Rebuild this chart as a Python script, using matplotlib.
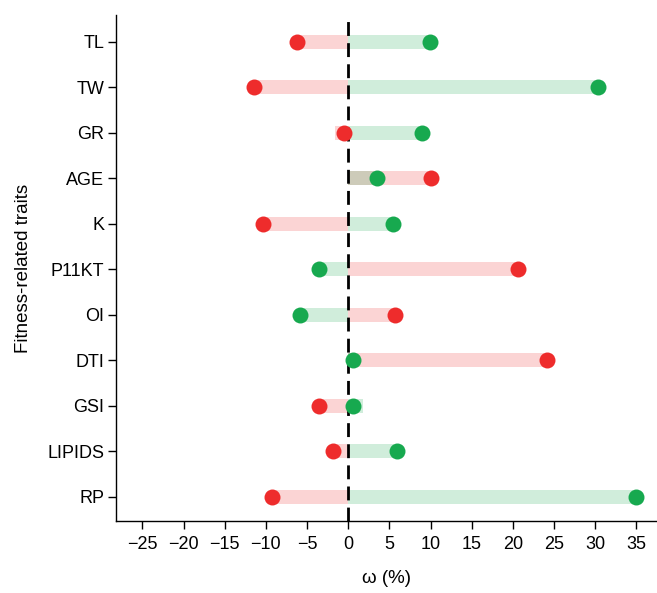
import numpy as np
import matplotlib.pyplot as plt

plt.rcParams['font.family'] = ['Liberation Sans', 'DejaVu Sans']

traits = ['TL', 'TW', 'GR', 'AGE', 'K', 'P11KT', 'OI', 'DTI', 'GSI', 'LIPIDS', 'RP']

# point values (omega, %)
red_pts = [-6.2, -11.4, -0.5, 10.0, -10.4, 20.6, 5.7, 24.1, -3.6, -1.8, -9.3]
green_pts = [9.9, 30.3, 9.0, 3.5, 5.4, -3.5, -5.8, 0.6, 0.6, 5.9, 35.0]

# bar ends (a couple of them run a little past the points)
red_bars = [-6.2, -11.4, -1.6, 10.0, -10.4, 20.6, 5.7, 24.1, -3.6, -1.8, -9.3]
green_bars = [9.9, 30.3, 9.0, 3.5, 5.4, -3.5, -5.8, 0.6, 1.8, 5.9, 35.0]

red = '#EE2C2C'
green = '#17A94F'

y = np.arange(len(traits))[::-1] + 1

fig = plt.figure(figsize=(6.57, 5.93), dpi=100)
ax = fig.add_axes([0.1766, 0.1214, 0.8234, 0.8533])

ax.barh(y, red_bars, height=0.31, left=0, color=red, alpha=0.2, lw=0)
ax.barh(y, green_bars, height=0.31, left=0, color=green, alpha=0.2, lw=0)
ax.axvline(0, ymax=0.99, color='black', lw=2.0, ls=(0, (5, 2.6)))
ax.plot(red_pts, y, 'o', color=red, ms=11.5, mew=0)
ax.plot(green_pts, y, 'o', color=green, ms=11.5, mew=0)

ax.set_xlim(-28.2, 37.5)
ax.set_ylim(0.47, 11.59)
ax.set_xticks(np.arange(-25, 40, 5))
ax.set_yticks(y)
ax.set_yticklabels(traits)

for s in ['top', 'right']:
    ax.spines[s].set_visible(False)
for s in ['left', 'bottom']:
    ax.spines[s].set_linewidth(1.0)

ax.tick_params(axis='both', labelsize=13, length=5.5, width=1.0, colors='black')
ax.tick_params(axis='x', pad=5)
ax.tick_params(axis='y', pad=3)

ax.set_xlabel('ω (%)', fontsize=13.5, labelpad=12.5)
ax.set_ylabel('Fitness-related traits', fontsize=13.5, labelpad=11)

fig.savefig('out.png', dpi=100)
